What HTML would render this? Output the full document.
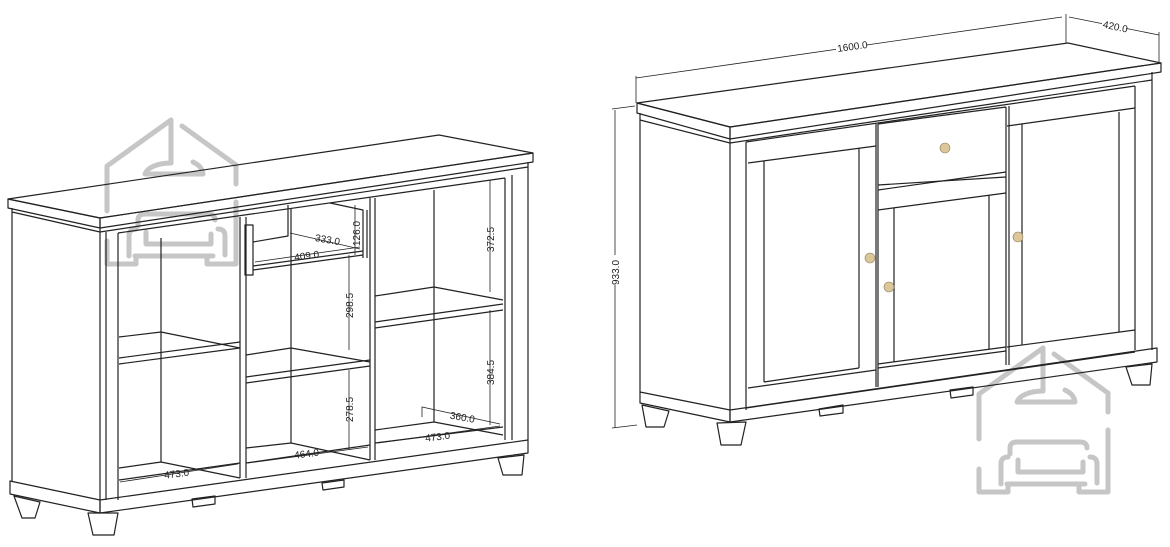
<!DOCTYPE html>
<html><head><meta charset="utf-8"><style>
html,body{margin:0;padding:0;background:#fff;}
svg{display:block;}
text{font-family:"Liberation Sans",sans-serif;font-size:10px;fill:#222;}
</style></head><body>
<svg width="1170" height="547" viewBox="0 0 1170 547" xmlns="http://www.w3.org/2000/svg">
<defs>
<g id="wm" fill="none" stroke="#c6c6c6" stroke-width="5" stroke-linecap="round" stroke-linejoin="round">
<path d="M2,93 V48 L66,2 V45"/>
<path d="M66,45 C52,45 42,50 40,56 H98 C97,50 94,47 88,44"/>
<path d="M77,8 L131,47 V66"/>
<path d="M131,84 V146 H102 V138"/>
<path d="M2,123 V146 H31 V138"/>
<path d="M33,108 V102 Q33,96 40,96 H103 Q110,96 110,102"/>
<path d="M24,138 V118 Q24,111 31,111"/>
<path d="M41,114 V126 H106 V116"/>
<path d="M113,111 Q120,111 120,118 V137"/>
<path d="M30,138 H108"/>
</g>
</defs>

<use href="#wm" x="105" y="118"/>
<use href="#wm" x="977" y="346"/>

<!-- LEFT CABINET -->
<g fill="none" stroke="#222" stroke-width="1.2" stroke-linejoin="round">
<polygon points="8,199 439,135 533,153 100,218"/>
<polygon points="100,218 533,153 533,162 100,228"/>
<polygon points="8,199 100,218 100,228 8,208"/>
<line x1="12" y1="212" x2="100" y2="232"/>
<line x1="100" y1="232" x2="528" y2="167"/>
<line x1="12" y1="208" x2="12" y2="482"/>
<line x1="100" y1="228" x2="100" y2="500"/>
<line x1="106" y1="232" x2="106" y2="500"/>
<line x1="118" y1="233" x2="118" y2="500"/>
<line x1="118" y1="233" x2="505" y2="178"/>
<line x1="505" y1="178" x2="505" y2="440"/>
<line x1="512" y1="175" x2="512" y2="440"/>
<line x1="528" y1="162" x2="528" y2="440"/>
<line x1="161" y1="238" x2="161" y2="462"/>
<line x1="291" y1="208" x2="291" y2="443"/>
<line x1="434" y1="190" x2="434" y2="422"/>
<polyline points="240,217 240,478"/><polyline points="246,217 246,478"/>
<polyline points="370,198 370,460"/><polyline points="375,198 375,460"/>
<polygon points="10,481 100,500 100,513 10,494"/>
<polygon points="100,500 528,440 528,453 100,513"/>
<polygon points="88,513 118,513 114,535 93,535"/>
<polygon points="14,496 40,502 35,518 22,518"/>
<polygon points="498,458 524,455 522,475 503,475"/>
<polygon points="192,499 215,496 215,504 193,507"/>
<polygon points="322,483 344,480 344,487 323,490"/>
<polyline points="119,337 161,332 240,348"/>
<line x1="119" y1="358" x2="240" y2="342"/>
<line x1="119" y1="364" x2="240" y2="348"/>
<polyline points="246,355 291,348 370,362"/>
<line x1="246" y1="377" x2="370" y2="360"/>
<line x1="246" y1="383" x2="370" y2="366"/>
<polyline points="375,296 434,287 503,300"/>
<line x1="375" y1="322" x2="503" y2="304"/>
<line x1="375" y1="328" x2="503" y2="310"/>
<polyline points="119,468 161,462 240,478"/>
<line x1="119" y1="480" x2="240" y2="463"/>
<polyline points="246,448 291,443 370,460"/>
<line x1="246" y1="463" x2="370" y2="445"/>
<polyline points="375,430 434,422 503,435"/>
<line x1="375" y1="443" x2="503" y2="427"/>
<rect x="245" y="225" width="8" height="50"/>
<polyline points="253,242 288,236 288,205"/>
<polyline points="330,203 363,210 363,258"/>
<line x1="367" y1="210" x2="367" y2="258"/>
<line x1="253" y1="270" x2="363" y2="255"/>
<line x1="253" y1="266" x2="363" y2="251"/>
</g>
<g fill="none" stroke="#222" stroke-width="0.8">
<line x1="290" y1="233" x2="360" y2="249"/>
<line x1="255" y1="262" x2="360" y2="247"/>
<line x1="355" y1="205" x2="355" y2="255"/>
<line x1="490" y1="180" x2="490" y2="292"/>
<line x1="349" y1="255" x2="349" y2="350"/>
<line x1="490" y1="310" x2="490" y2="425"/>
<line x1="349" y1="370" x2="349" y2="450"/>
<polyline points="422,417 422,407 500,424"/>
<line x1="378" y1="443" x2="500" y2="426"/>
<line x1="248" y1="463" x2="368" y2="447"/>
<line x1="120" y1="482" x2="238" y2="464"/>
</g>
<text x="315" y="243" transform="rotate(10 327 240)">333.0</text>
<text transform="translate(360,246) rotate(-90)">126.0</text>
<text x="294" y="259" transform="rotate(-8 308 255)">409.0</text>
<text transform="translate(494,252) rotate(-90)">372.5</text>
<text transform="translate(353,318) rotate(-90)">298.5</text>
<text transform="translate(494,385) rotate(-90)">384.5</text>
<text transform="translate(353,422) rotate(-90)">278.5</text>
<text x="450" y="421" transform="rotate(10 464 417)">360.0</text>
<text x="425" y="440" transform="rotate(-7 439 436)">473.0</text>
<text x="294" y="457" transform="rotate(-7 308 453)">464.0</text>
<text x="164" y="477" transform="rotate(-7 178 473)">473.0</text>

<!-- RIGHT CABINET -->
<g fill="none" stroke="#222" stroke-width="1.2" stroke-linejoin="round">
<polygon points="637,103 1068,43 1161,63 730,127"/>
<polygon points="730,127 1161,63 1161,72 730,139"/>
<polygon points="637,103 730,127 730,139 637,113"/>
<line x1="640" y1="120" x2="730" y2="143"/>
<line x1="730" y1="143" x2="1152" y2="80"/>
<line x1="640" y1="113" x2="640" y2="392"/>
<line x1="730" y1="139" x2="730" y2="410"/>
<line x1="746" y1="142" x2="746" y2="410"/>
<line x1="746" y1="142" x2="1135" y2="86"/>
<line x1="1135" y1="86" x2="1135" y2="350"/>
<line x1="1152" y1="72" x2="1152" y2="350"/>
<polygon points="640,392 730,410 730,422 640,403"/>
<polygon points="730,410 1157,348 1157,362 730,422"/>
<line x1="746" y1="408" x2="1135" y2="352"/>
<polygon points="717,423 746,422 741,445 721,445"/>
<polygon points="642,405 669,411 664,427 646,427"/>
<polygon points="1126,367 1152,364 1150,385 1132,385"/>
<polygon points="819,409 843,405 843,413 820,416"/>
<polygon points="950,390 973,387 973,395 951,398"/>
<line x1="748" y1="163" x2="876" y2="146"/>
<line x1="876" y1="124" x2="876" y2="387"/>
<line x1="764" y1="161" x2="764" y2="382"/>
<line x1="859" y1="148" x2="859" y2="368"/>
<line x1="764" y1="382" x2="859" y2="368"/>
<line x1="748" y1="388" x2="876" y2="370"/>
<line x1="878" y1="124" x2="1006" y2="107"/>
<line x1="878" y1="124" x2="878" y2="387"/>
<line x1="1006" y1="107" x2="1006" y2="365"/>
<line x1="878" y1="190" x2="1006" y2="172"/>
<line x1="878" y1="185" x2="1006" y2="177"/>
<line x1="878" y1="210" x2="1006" y2="193"/>
<line x1="894" y1="208" x2="894" y2="362"/>
<line x1="989" y1="195" x2="989" y2="349"/>
<line x1="878" y1="364" x2="1006" y2="347"/>
<line x1="878" y1="368" x2="1006" y2="351"/>
<line x1="1007" y1="126" x2="1135" y2="108"/>
<line x1="1009" y1="106" x2="1009" y2="365"/>
<line x1="1022" y1="124" x2="1022" y2="345"/>
<line x1="1119" y1="112" x2="1119" y2="332"/>
<line x1="1007" y1="347" x2="1135" y2="330"/>
</g>
<g fill="#dcc79a" stroke="#8a7a55" stroke-width="0.6">
<circle cx="945" cy="148" r="5"/><circle cx="870" cy="258" r="5"/>
<circle cx="889" cy="287" r="5"/><circle cx="1018" cy="237" r="5"/>
</g>
<g fill="none" stroke="#222" stroke-width="0.8">
<line x1="636" y1="78" x2="1062" y2="17"/>
<line x1="636" y1="76" x2="636" y2="103"/>
<line x1="1066" y1="14" x2="1066" y2="43"/>
<line x1="1069" y1="17" x2="1159" y2="35"/>
<line x1="1159" y1="32" x2="1159" y2="62"/>
<line x1="615" y1="110" x2="615" y2="428"/>
<line x1="612" y1="109" x2="635" y2="106"/>
<line x1="612" y1="428" x2="637" y2="425"/>
</g>
<rect x="836" y="40" width="30" height="11" fill="#fff"/>
<text x="837" y="50" transform="rotate(-8 852 46)">1600.0</text>
<rect x="1102" y="20" width="24" height="11" fill="#fff"/>
<text x="1103" y="30" transform="rotate(12 1115 26)">420.0</text>
<rect x="609" y="255" width="12" height="30" fill="#fff"/>
<text transform="translate(619,285) rotate(-90)">933.0</text>
</svg>
</body></html>
